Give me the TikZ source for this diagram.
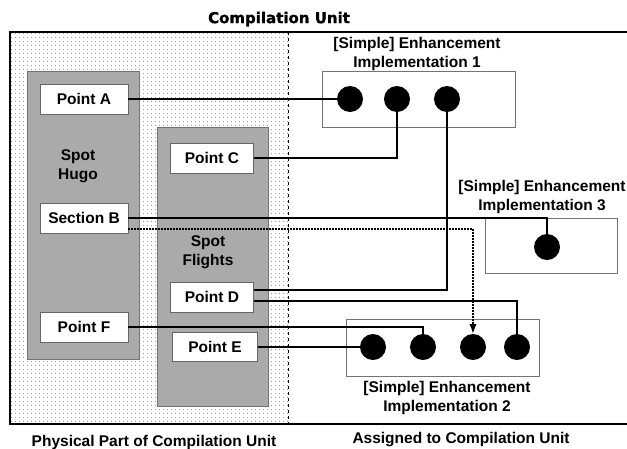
\documentclass[tikz,border=0pt]{standalone}
\usepackage{fontspec}
\setmainfont{Liberation Sans}
\newfontfamily\headfont{DejaVu Sans}[BoldFeatures={FakeBold=1.2}]
\usetikzlibrary{arrows.meta, patterns.meta}
\tikzset{>=Latex}
\definecolor{dotgray}{RGB}{120, 120, 120}
\definecolor{spotgray}{RGB}{170, 170, 170}

\begin{document}
\begin{tikzpicture}[x=1pt, y=-1pt,
    point/.style={draw=black!60, fill=white, thin, minimum width=88pt, minimum height=30pt, inner sep=0pt, font=\fontsize{15.5}{17}\selectfont\bfseries},
    spot/.style={draw=black!55, fill=spotgray, thin},
    impl/.style={draw=black!55, fill=white, thin, inner sep=0pt},
    hole/.style={circle, fill=black, minimum size=26pt, inner sep=0pt},
    caption/.style={align=center, font=\fontsize{15.5}{19}\selectfont\bfseries},
    link/.style={line width=1.5pt}
  ]

  \useasboundingbox (0,0) rectangle (627,448);

  % physical part of the unit
  \fill[white] (10,32) rectangle (627,424);
  \fill[pattern={Dots[distance=4pt, radius=0.6pt]}, pattern color=dotgray] (10,32) rectangle (288,424);
  \draw[dashed, thin] (288,32) -- (288,424);
  \draw[line width=2.5pt] (627,32) -- (10,32) -- (10,424) -- (627,424);

  % spots
  \draw[spot] (27,71) rectangle (139,359);
  \draw[spot] (157,127) rectangle (268,406);
  \node[caption] (hugo) at (78,166) {Spot\\Hugo};
  \node[caption] (flights) at (208,252) {Spot\\Flights};

  \node[point] (ptA) at (84,99) {Point A};
  \node[point] (secB) at (84,218) {Section B};
  \node[point] (ptF) at (84,327) {Point F};
  \node[point, minimum width=83pt] (ptC) at (212,158) {Point C};
  \node[point, minimum width=83pt] (ptD) at (212,297) {Point D};
  \node[point, minimum width=85pt, minimum height=29pt] (ptE) at (215,347) {Point E};

  % enhancement implementations
  \node[impl, minimum width=193pt, minimum height=56pt] (impl1) at (418.5,99) {};
  \node[impl, minimum width=193pt, minimum height=57pt] (impl2) at (442.5,347.5) {};
  \node[impl, minimum width=132pt, minimum height=55pt] (impl3) at (551,245.5) {};
  \node[caption] (lab1) at (417,54) {[Simple] Enhancement\\Implementation 1};
  \node[caption] (lab2) at (447,398) {[Simple] Enhancement\\Implementation 2};
  \node[caption] (lab3) at (542,197) {[Simple] Enhancement\\Implementation 3};

  \foreach \x [count=\i] in {350,397,447}
    \node[hole] (a\i) at (\x,99) {};
  \foreach \x [count=\i] in {373,423,473,517}
    \node[hole] (b\i) at (\x,347) {};
  \node[hole] (c1) at (547,247) {};

  % connections
  \draw[link] (ptA.east) -- (a1.west);
  \draw[link] (ptC.east) -| (a2.south);
  \draw[link] (secB.east) -| (c1.north);
  \draw[link, dash pattern=on 1.5pt off 1.5pt, ->] ([yshift=-11pt]secB.east) -| (b3.north);
  \draw[link] (a3.south) |- ([yshift=7pt]ptD.east);
  \draw[link] ([yshift=-4pt]ptD.east) -| (b4.north);
  \draw[link] (ptF.east) -| (b2.north);
  \draw[link] (ptE.east) -- (b1.west);

  % headings
  \node[font=\headfont\fontsize{15}{17}\selectfont\bfseries] (title) at (279,19) {Compilation Unit};
  \node[caption] (phys) at (154,442) {Physical Part of Compilation Unit};
  \node[caption] (assigned) at (461,440) {Assigned to Compilation Unit};

\end{tikzpicture}
\end{document}
